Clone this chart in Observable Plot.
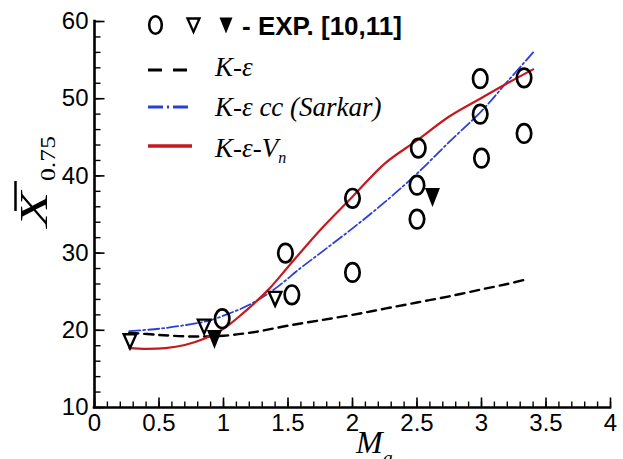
<!DOCTYPE html>
<html><head><meta charset="utf-8">
<script src="https://cdn.jsdelivr.net/npm/d3@7"></script>
<script src="https://cdn.jsdelivr.net/npm/@observablehq/plot@0.6"></script>
<style>html,body{margin:0;padding:0;background:#fff}svg{display:block}</style>
</head><body><div id="chart"></div>
<script>
// ---- data ----
const keX = [0.27,0.5,0.75,1.0,1.25,1.5,1.75,2.0,2.25,2.5,2.75,3.0,3.2,3.35];
const keY = [19.7,19.4,19.2,19.3,19.8,20.6,21.3,22.0,22.8,23.6,24.4,25.3,26.0,26.6];
const ccX = [0.27,0.5,0.75,0.9,1.0,1.2,1.4,1.6,1.75,2.0,2.25,2.5,2.75,3.0,3.2,3.4];
const ccY = [19.9,20.2,20.8,21.3,21.9,23.3,25.4,28.1,30.0,33.2,36.6,40.3,44.4,48.4,52.2,56.0];
const vnX = [0.27,0.4,0.55,0.7,0.85,1.0,1.15,1.35,1.5,1.75,2.0,2.25,2.5,2.75,3.0,3.2,3.4];
const vnY = [17.7,17.6,17.7,18.1,18.9,20.2,22.2,25.3,28.2,33.0,37.3,41.6,44.6,47.7,50.1,52.0,53.8];
const circX = [0.99,1.48,1.53,2.0,2.0,2.51,2.5,2.5,2.99,2.99,3.0,3.33,3.33];
const circY = [21.5,30.0,24.6,37.1,27.5,43.6,38.8,34.4,52.6,48.0,42.3,52.7,45.5];
const openTriX = [0.275,0.85,1.40];
const openTriY = [18.6,20.5,24.1];
const fillTriX = [0.93,2.62];
const fillTriY = [18.8,37.2];
const xMajor = [0,0.5,1,1.5,2,2.5,3,3.5,4];
const xMinor = d3.range(0,4.0001,0.1).map(v=>+v.toFixed(1));
const yMajor = [10,20,30,40,50,60];
const yMinor = d3.range(10,60.001,2);

const pts = (xs, ys) => xs.map((x,i)=>({x, y: ys[i]}));

// ---- marker shapes ----
const ellipseSym = {draw(ctx){ const rx=7.2, ry=9.3, k=0.5523;
  ctx.moveTo(rx,0);
  ctx.bezierCurveTo(rx,k*ry,k*rx,ry,0,ry);
  ctx.bezierCurveTo(-k*rx,ry,-rx,k*ry,-rx,0);
  ctx.bezierCurveTo(-rx,-k*ry,-k*rx,-ry,0,-ry);
  ctx.bezierCurveTo(k*rx,-ry,rx,-k*ry,rx,0);
  ctx.closePath(); }};
const openTriSym = {draw(ctx){ ctx.moveTo(-6.3,-6.8); ctx.lineTo(6.3,-6.8); ctx.lineTo(0,7.2); ctx.closePath(); }};
const fillTriSym = {draw(ctx){ ctx.moveTo(-7.5,-9.5); ctx.lineTo(7.5,-9.5); ctx.lineTo(0,9.5); ctx.closePath(); }};
// inward tick shapes
const tickUp = (len) => ({draw(ctx){ ctx.moveTo(0,0); ctx.lineTo(0,-len); }});
const tickRight = (len) => ({draw(ctx){ ctx.moveTo(0,0); ctx.lineTo(len,0); }});

const chart = Plot.plot({
  width: 623, height: 459,
  marginLeft: 94, marginRight: 13, marginTop: 21, marginBottom: 52,
  style: {fontFamily: "Arial, 'Liberation Sans', sans-serif", fontSize: "24px", background: "#fff", color: "#000"},
  x: {domain: [0,4]},
  y: {domain: [10,60]},
  marks: [
    Plot.axisX({ticks: xMajor, tickSize: 0, tickPadding: 6, tickFormat: d=>String(d), fontSize: 24, label: null}),
    Plot.axisY({ticks: yMajor, tickSize: 0, tickPadding: 6, tickFormat: d=>String(d), fontSize: 24, label: null}),
    Plot.dot(xMinor, {x: d=>d, frameAnchor: "bottom", symbol: tickUp(6), stroke: "#000", strokeWidth: 1.4, fill: "none"}),
    Plot.dot(xMajor, {x: d=>d, frameAnchor: "bottom", symbol: tickUp(10), stroke: "#000", strokeWidth: 1.6, fill: "none"}),
    Plot.dot(yMinor, {y: d=>d, frameAnchor: "left", symbol: tickRight(6), stroke: "#000", strokeWidth: 1.4, fill: "none"}),
    Plot.dot(yMajor, {y: d=>d, frameAnchor: "left", symbol: tickRight(10), stroke: "#000", strokeWidth: 1.6, fill: "none"}),
    Plot.ruleY([10], {x1: 0, x2: 4, stroke: "#000", strokeWidth: 2.6, strokeLinecap: "square"}),
    Plot.ruleX([0], {y1: 10, y2: 60, stroke: "#000", strokeWidth: 2.6, strokeLinecap: "square"}),
    Plot.line(pts(keX,keY), {x:"x", y:"y", curve:"catmull-rom", stroke:"#000", strokeWidth:2.4, strokeDasharray:"9,6"}),
    Plot.line(pts(ccX,ccY), {x:"x", y:"y", curve:"catmull-rom", stroke:"#2b3fd6", strokeWidth:1.8, strokeDasharray:"11,3,2,3"}),
    Plot.line(pts(vnX,vnY), {x:"x", y:"y", curve:"catmull-rom", stroke:"#c41a1f", strokeWidth:2.2}),
    Plot.dot(pts(circX,circY), {x:"x", y:"y", symbol: ellipseSym, stroke:"#000", strokeWidth:2.7, fill:"none"}),
    Plot.dot(pts(openTriX,openTriY), {x:"x", y:"y", symbol: openTriSym, stroke:"#000", strokeWidth:2.4, fill:"none"}),
    Plot.dot(pts(fillTriX,fillTriY), {x:"x", y:"y", symbol: fillTriSym, fill:"#000", stroke:"none"})
  ]
});
document.getElementById("chart").appendChild(chart);

// ---- legend & axis titles ----
const svg = d3.select(chart);
const serif = "'Liberation Serif', 'Times New Roman', serif";
const sans = "Arial, 'Liberation Sans', sans-serif";
const lg = svg.append("g").attr("text-anchor","start");
lg.append("ellipse").attr("cx",155.5).attr("cy",25).attr("rx",6.3).attr("ry",8.7).attr("fill","none").attr("stroke","#000").attr("stroke-width",2.6);
lg.append("path").attr("d","M187.5,18.5L199.5,18.5L193.5,32Z").attr("fill","none").attr("stroke","#000").attr("stroke-width",2.3);
lg.append("path").attr("d","M219.5,17.5L232.5,17.5L226,33.5Z").attr("fill","#000");
lg.append("text").attr("text-anchor","start").attr("x",242).attr("y",35).attr("font-family",sans).attr("font-weight","bold").attr("font-size",26).text("- EXP. [10,11]");
lg.append("line").attr("x1",148).attr("x2",188).attr("y1",70).attr("y2",70).attr("stroke","#000").attr("stroke-width",3).attr("stroke-dasharray","14,11");
lg.append("text").attr("text-anchor","start").attr("x",215).attr("y",76).attr("font-family",serif).attr("font-style","italic").attr("font-size",27).text("K-ε");
lg.append("line").attr("x1",148).attr("x2",188).attr("y1",107).attr("y2",107).attr("stroke","#2b3fd6").attr("stroke-width",3).attr("stroke-dasharray","15,4,2,4");
lg.append("text").attr("text-anchor","start").attr("x",215).attr("y",116).attr("font-family",serif).attr("font-style","italic").attr("font-size",27).text("K-ε cc (Sarkar)");
lg.append("line").attr("x1",148).attr("x2",192).attr("y1",146).attr("y2",146).attr("stroke","#c41a1f").attr("stroke-width",3.5);
const t4 = lg.append("text").attr("text-anchor","start").attr("x",215).attr("y",157).attr("font-family",serif).attr("font-style","italic").attr("font-size",27);
t4.append("tspan").text("K-ε-V");
t4.append("tspan").attr("dy",6).attr("font-size",16).text("n");

// y title
const tg = svg.append("g").attr("text-anchor","start");
tg.append("text").attr("text-anchor","start").attr("transform","translate(47,227) rotate(-90) scale(1.45,1)")
  .attr("font-family",serif).attr("font-style","italic").attr("font-size",40).text("X");
tg.append("text").attr("text-anchor","start").attr("transform","translate(55,181) rotate(-90) scale(1.17,1)")
  .attr("font-family",serif).attr("font-size",22).text("0.75");
tg.append("line").attr("x1",15.5).attr("x2",15.5).attr("y1",181).attr("y2",211).attr("stroke","#000").attr("stroke-width",2.5);
// x title
const xt = tg.append("text").attr("text-anchor","start").attr("x",356).attr("y",453).attr("font-family",serif).attr("font-style","italic").attr("font-size",32);
xt.append("tspan").text("M");
xt.append("tspan").attr("dy",12).attr("font-size",20).text("a");
</script></body></html>
